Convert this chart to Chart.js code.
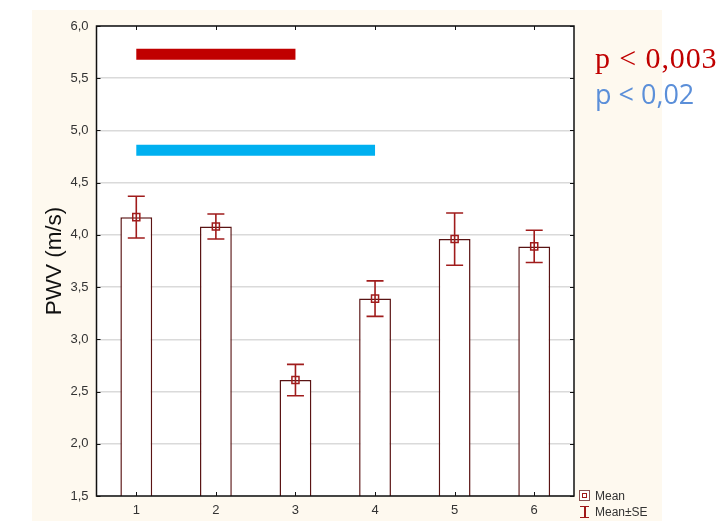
<!DOCTYPE html>
<html>
<head>
<meta charset="utf-8">
<script src="https://cdn.jsdelivr.net/npm/chart.js@4.4.1/dist/chart.umd.min.js"></script>
<style>
  html, body { margin: 0; padding: 0; background: #fff; }
  #wrap { position: relative; width: 722px; height: 521px; overflow: hidden; }
  #cream { position: absolute; left: 32px; top: 10px; width: 630px; height: 511px; background: #fef9ef; }
  canvas { position: absolute; left: 0; top: 0; }
  .pval { position: absolute; white-space: nowrap; }
  #p1 { left: 595px; top: 43px; color: #c00000; font: 30px/1 "Liberation Serif", serif; letter-spacing: 0.9px; }
  #p2 { left: 595px; top: 75px; color: #5b8fd9; font: 27px "Open Sans", sans-serif; }
  .leg { position: absolute; left: 579px; font: 12px "Liberation Sans", Arial, sans-serif; color: #333; white-space: nowrap; }
  .leg span { display: inline-block; vertical-align: middle; }
  .ico-mean { width: 9px; height: 9px; border: 1px solid #8a5050; background: #fff; position: relative; margin-right: 5px; }
  .ico-mean::after { content: ""; position: absolute; left: 2px; top: 2px; width: 3px; height: 3px; border: 1px solid #a01818; }
  .ico-se { width: 11px; height: 12px; position: relative; margin-right: 5px; }
  .ico-se::before { content: ""; position: absolute; left: 1px; top: 0; width: 9px; height: 10px; border-top: 1.5px solid #a01818; border-bottom: 1.5px solid #a01818; }
  .ico-se::after { content: ""; position: absolute; left: 5px; top: 0; width: 1.5px; height: 12px; background: #a01818; }
</style>
</head>
<body>
<div id="wrap">
  <div id="cream"></div>
  <canvas id="chart" width="722" height="521"></canvas>
  <div class="pval" id="p1">p &lt; 0,003</div>
  <div class="pval" id="p2">p &lt; 0,02</div>
  <div class="leg" style="top:488px"><span class="ico-mean"></span><span>Mean</span></div>
  <div class="leg" style="top:504px"><span class="ico-se"></span><span>Mean±SE</span></div>
</div>
<script>
const categories = ['1', '2', '3', '4', '5', '6'];
const meanPWV = [4.17, 4.08, 2.61, 3.39, 3.96, 3.89];
const sePWV = [0.20, 0.12, 0.15, 0.17, 0.25, 0.155];

// significance brackets: from category index, to category index, level
const sigFrom = [0, 0];
const sigTo = [2, 3];
const sigLevel = [5.73, 4.81];
const sigColors = ['#c00000', '#00b0f0'];

const sigDatasets = sigLevel.map((lvl, k) => ({
    type: 'line',
    data: categories.map((c, i) => (i >= sigFrom[k] && i <= sigTo[k]) ? lvl : null),
    borderColor: sigColors[k],
    borderWidth: 11,
    borderCapStyle: 'butt',
    pointRadius: 0,
    spanGaps: false,
    order: 2
}));

const errorBars = {
    id: 'errorBars',
    beforeDraw(chart) {
        const { ctx, chartArea: a } = chart;
        ctx.save();
        ctx.fillStyle = '#fff';
        ctx.fillRect(a.left, a.top, a.right - a.left, a.bottom - a.top);
        ctx.restore();
    },
    afterDatasetsDraw(chart) {
        const { ctx, scales: { x, y } } = chart;
        ctx.save();
        ctx.strokeStyle = '#a01c1c';
        ctx.lineWidth = 1.6;
        meanPWV.forEach((m, i) => {
            const px = x.getPixelForValue(i);
            const hi = y.getPixelForValue(m + sePWV[i]);
            const lo = y.getPixelForValue(m - sePWV[i]);
            ctx.beginPath();
            ctx.moveTo(px, hi); ctx.lineTo(px, lo);
            ctx.moveTo(px - 8.5, hi); ctx.lineTo(px + 8.5, hi);
            ctx.moveTo(px - 8.5, lo); ctx.lineTo(px + 8.5, lo);
            ctx.stroke();
        });
        ctx.restore();
    },
    afterDraw(chart) {
        const { ctx, chartArea: a, scales: { x, y } } = chart;
        ctx.save();
        ctx.strokeStyle = '#111';
        ctx.lineWidth = 1.5;
        ctx.strokeRect(a.left, a.top, a.right - a.left, a.bottom - a.top);
        ctx.lineWidth = 1;
        ctx.beginPath();
        y.ticks.forEach((t, i) => {
            const py = Math.round(y.getPixelForTick(i)) + 0.5;
            ctx.moveTo(a.left, py); ctx.lineTo(a.left + 4, py);
            ctx.moveTo(a.right, py); ctx.lineTo(a.right - 4, py);
        });
        x.ticks.forEach((t, i) => {
            const px = Math.round(x.getPixelForValue(i)) + 0.5;
            ctx.moveTo(px, a.bottom); ctx.lineTo(px, a.bottom - 4);
            ctx.moveTo(px, a.top); ctx.lineTo(px, a.top + 4);
        });
        ctx.stroke();
        ctx.restore();
    }
};

Chart.defaults.font.family = '"Liberation Sans", Arial, sans-serif';
Chart.defaults.color = '#333';

new Chart(document.getElementById('chart'), {
    type: 'bar',
    data: {
        labels: categories,
        datasets: [
            {
                type: 'line',
                data: meanPWV,
                showLine: false,
                pointStyle: 'rect',
                pointRadius: 5,
                pointBorderWidth: 1.5,
                pointBorderColor: '#a01c1c',
                pointBackgroundColor: 'rgba(255,255,255,0)',
                order: 1
            },
            ...sigDatasets,
            {
                type: 'bar',
                data: meanPWV,
                backgroundColor: '#fff',
                borderColor: '#5a1414',
                borderWidth: 1.5,
                barPercentage: 0.4,
                categoryPercentage: 1,
                order: 3
            }
        ]
    },
    options: {
        responsive: false,
        animation: false,
        devicePixelRatio: 1,
        layout: { padding: { left: 0, right: 148, top: 26, bottom: 0 } },
        plugins: { legend: { display: false }, tooltip: { enabled: false } },
        scales: {
            x: {
                grid: { display: false, drawTicks: false },
                border: { display: false },
                ticks: { padding: 7, font: { size: 13 } },
                afterFit: s => { s.height = 25; }
            },
            y: {
                min: 1.5,
                max: 6,
                grid: { color: '#dadada', lineWidth: 1.5, drawTicks: false },
                border: { display: false },
                ticks: {
                    stepSize: 0.5,
                    padding: 8,
                    font: { size: 13 },
                    callback: v => v.toFixed(1).replace('.', ',')
                },
                title: {
                    display: true,
                    text: 'PWV (m/s)',
                    color: '#111',
                    font: { size: 22.5 },
                    padding: { top: 41, bottom: 0 }
                },
                afterFit: s => { s.width = 96.5; }
            }
        }
    },
    plugins: [errorBars]
});
</script>
</body>
</html>
